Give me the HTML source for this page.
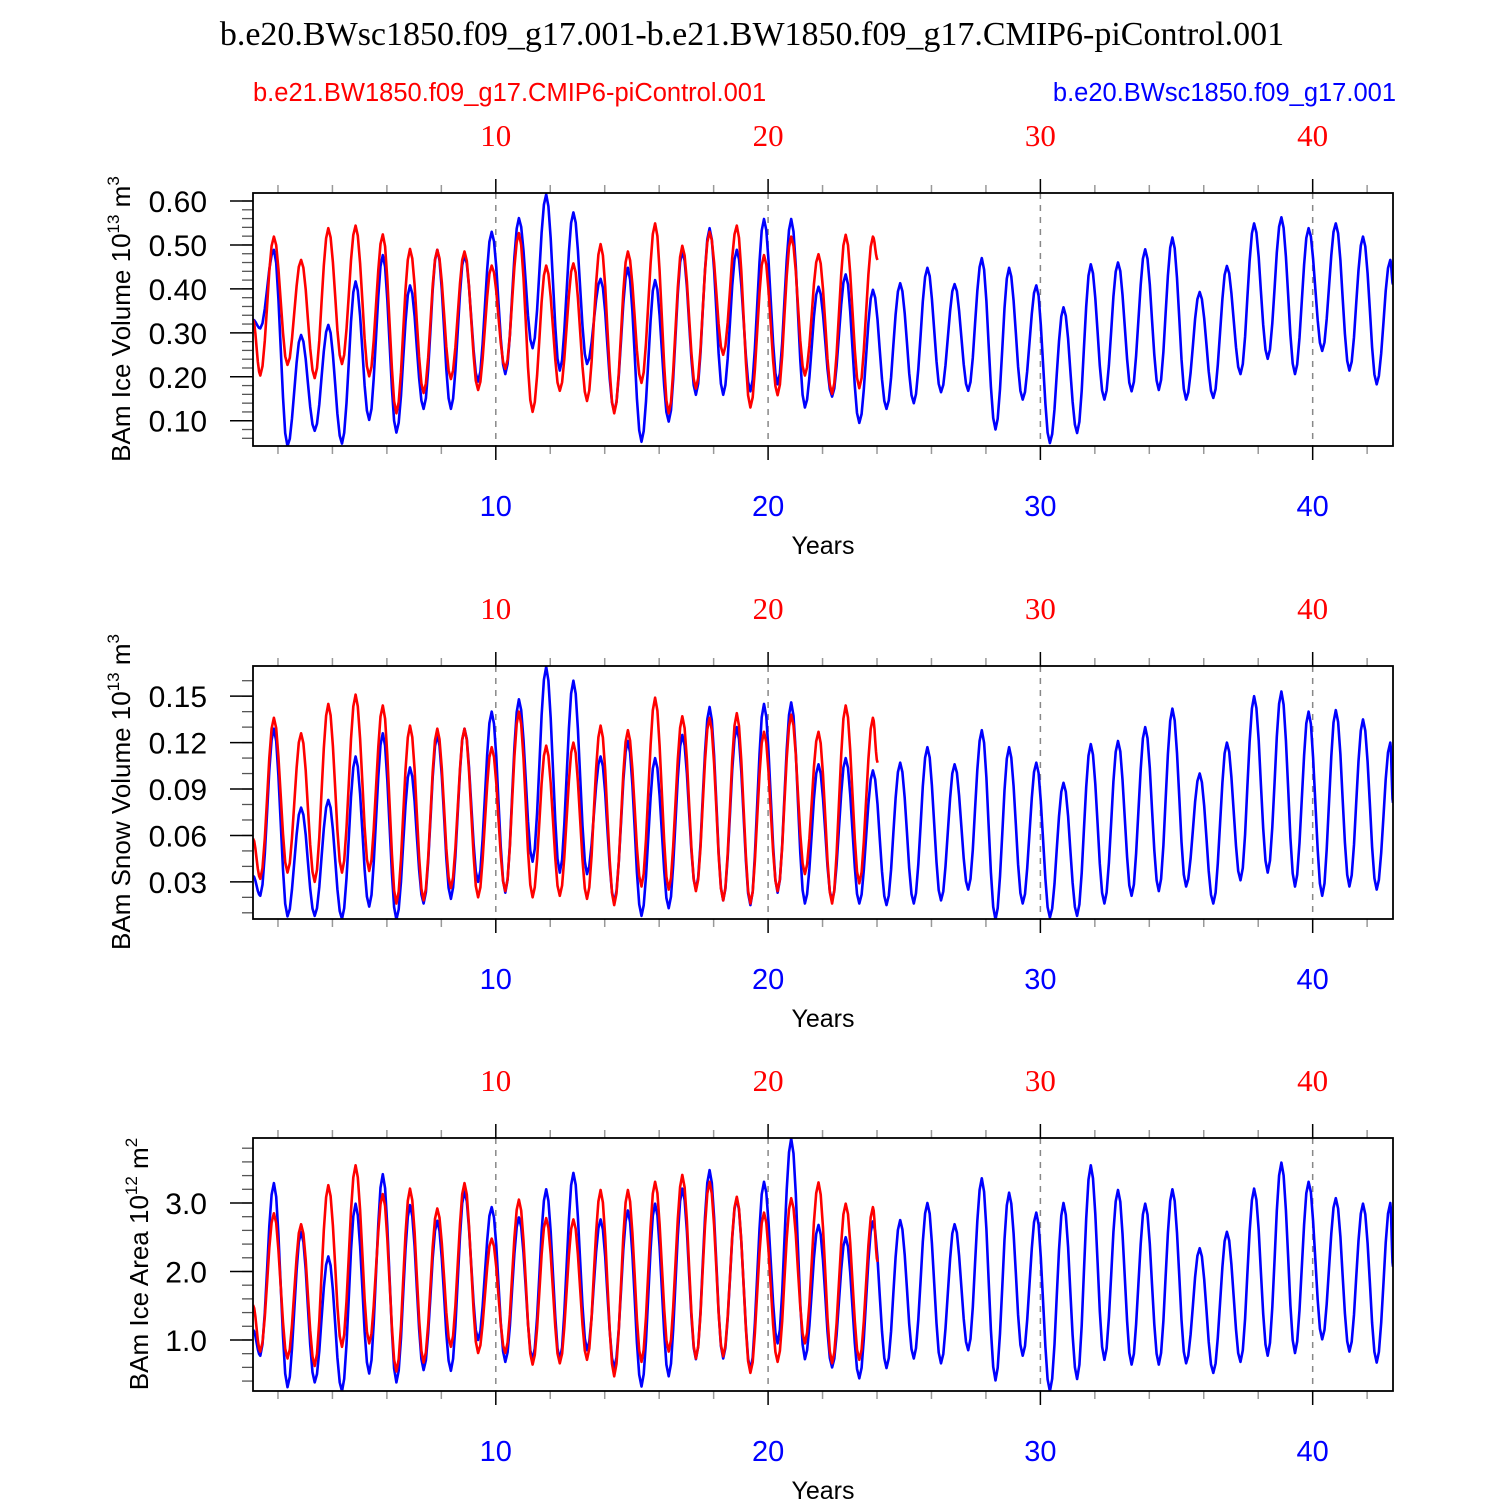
<!DOCTYPE html>
<html><head><meta charset="utf-8"><style>
html,body{margin:0;padding:0;background:#fff;}
svg{display:block;}
</style></head><body>
<svg id="chart" xmlns="http://www.w3.org/2000/svg" width="1500" height="1500" viewBox="0 0 1500 1500">
<rect x="0" y="0" width="1500" height="1500" fill="#fff"/>
<text x="752" y="45" text-anchor="middle" font-family="Liberation Serif, serif" font-size="34">b.e20.BWsc1850.f09_g17.001-b.e21.BW1850.f09_g17.CMIP6-piControl.001</text>
<text x="253" y="101" font-family="Liberation Sans, sans-serif" font-size="25.5" fill="#ff0000">b.e21.BW1850.f09_g17.CMIP6-piControl.001</text>
<text x="1396" y="101" text-anchor="end" font-family="Liberation Sans, sans-serif" font-size="25.5" fill="#0000ff">b.e20.BWsc1850.f09_g17.001</text>
<g id="panels"></g>
</svg>
<script>
// ---- data: per-year extrema (start, trough before each peak, peak, end value) ----
const volBlueStart = 0.33;
const volBlueMin = [0.31,0.042,0.077,0.048,0.102,0.073,0.127,0.127,0.189,0.206,0.265,0.214,0.229,0.121,0.052,0.098,0.159,0.159,0.167,0.183,0.130,0.155,0.095,0.127,0.140,0.165,0.168,0.080,0.148,0.049,0.072,0.148,0.167,0.170,0.148,0.152,0.206,0.241,0.206,0.259,0.214,0.183];
const volBlueMax = [0.489,0.295,0.318,0.417,0.477,0.408,0.489,0.477,0.530,0.561,0.615,0.574,0.423,0.448,0.420,0.486,0.538,0.489,0.559,0.559,0.405,0.433,0.398,0.413,0.448,0.411,0.470,0.448,0.408,0.358,0.456,0.460,0.490,0.517,0.393,0.452,0.549,0.563,0.538,0.549,0.519,0.466];
const volBlueEnd = 0.41;
const volRedStart = 0.33;
const volRedMin = [0.203,0.227,0.197,0.229,0.201,0.117,0.163,0.195,0.170,0.218,0.120,0.168,0.145,0.117,0.186,0.117,0.173,0.250,0.130,0.158,0.203,0.161,0.174];
const volRedMax = [0.519,0.466,0.538,0.544,0.524,0.491,0.489,0.485,0.453,0.527,0.453,0.458,0.502,0.485,0.549,0.498,0.530,0.544,0.477,0.519,0.479,0.523,0.519];
const volRedEnd = 0.466;

const snowBlueStart = 0.034;
const snowBlueMin = [0.021,0.0077,0.008,0.006,0.014,0.0056,0.016,0.019,0.030,0.023,0.043,0.036,0.035,0.017,0.008,0.013,0.025,0.018,0.015,0.023,0.016,0.018,0.016,0.015,0.016,0.018,0.025,0.0056,0.016,0.007,0.008,0.016,0.021,0.024,0.027,0.016,0.031,0.036,0.027,0.021,0.027,0.025];
const snowBlueMax = [0.129,0.078,0.083,0.111,0.126,0.104,0.125,0.129,0.140,0.148,0.169,0.160,0.111,0.121,0.110,0.125,0.143,0.130,0.145,0.146,0.106,0.110,0.102,0.107,0.117,0.106,0.128,0.117,0.107,0.094,0.119,0.121,0.130,0.142,0.100,0.120,0.150,0.153,0.140,0.141,0.135,0.120];
const snowBlueEnd = 0.081;
const snowRedStart = 0.058;
const snowRedMin = [0.032,0.036,0.030,0.036,0.037,0.016,0.018,0.026,0.020,0.024,0.020,0.021,0.019,0.015,0.027,0.025,0.024,0.018,0.016,0.024,0.035,0.016,0.029];
const snowRedMax = [0.136,0.126,0.145,0.151,0.144,0.131,0.129,0.129,0.117,0.140,0.118,0.120,0.131,0.128,0.149,0.137,0.136,0.139,0.127,0.138,0.127,0.144,0.136];
const snowRedEnd = 0.107;

const areaBlueStart = 1.15;
const areaBlueMin = [0.77,0.31,0.38,0.25,0.51,0.38,0.56,0.55,1.00,0.68,0.71,0.71,0.85,0.59,0.32,0.47,0.72,0.73,0.56,0.95,0.72,0.60,0.44,0.59,0.73,0.66,0.85,0.41,0.77,0.25,0.43,0.71,0.64,0.64,0.66,0.52,0.68,0.77,0.81,1.01,0.83,0.67];
const areaBlueMax = [3.29,2.58,2.22,2.99,3.42,2.97,2.74,3.17,2.94,2.79,3.20,3.44,2.76,2.89,2.99,3.21,3.48,3.07,3.31,3.94,2.68,2.50,2.73,2.75,3.00,2.69,3.36,3.15,2.86,3.00,3.55,3.19,2.99,3.20,2.34,2.58,3.21,3.59,3.31,3.07,2.99,3.00];
const areaBlueEnd = 2.07;
const areaRedStart = 1.51;
const areaRedMin = [0.83,0.73,0.62,0.90,0.95,0.54,0.67,0.90,0.81,0.81,0.64,0.66,0.71,0.47,0.68,0.83,0.73,0.76,0.52,0.68,0.95,0.66,0.71];
const areaRedMax = [2.85,2.69,3.26,3.55,3.13,3.21,2.92,3.29,2.48,3.05,2.78,2.76,3.19,3.19,3.31,3.41,3.31,3.09,2.86,3.07,3.30,2.99,2.94];
const areaRedEnd = 2.14;

const yearTicks = [10,20,30,40];
const volTicks = [0.10,0.20,0.30,0.40,0.50,0.60];
const volTickLabels = ["0.10","0.20","0.30","0.40","0.50","0.60"];
const snowTicks = [0.03,0.06,0.09,0.12,0.15];
const snowTickLabels = ["0.03","0.06","0.09","0.12","0.15"];
const areaTicks = [1.0,2.0,3.0];
const areaTickLabels = ["1.0","2.0","3.0"];

// ---- layout ----
const X0 = 253, X1 = 1393, T0 = 1.083, T1 = 42.95;
const NS = "http://www.w3.org/2000/svg";
function xScale(t){ return X0 + (t - T0) / (T1 - T0) * (X1 - X0); }
function mk(tag, attrs, parent){ const e = document.createElementNS(NS, tag); for (const k in attrs) e.setAttribute(k, attrs[k]); parent.appendChild(e); return e; }
const root = document.getElementById('panels');

function buildSeries(start, mins, maxs, end, tEnd){
  const ext = [[T0, start]];
  for (let k = 0; k < maxs.length; k++){
    ext.push([k + 1.35, mins[k]]);
    ext.push([k + 1.85, maxs[k]]);
  }
  ext.push([tEnd, end]);
  const pts = [];
  for (let i = 0; i < ext.length - 1; i++){
    const [ta, va] = ext[i], [tb, vb] = ext[i+1];
    const n = 6;
    for (let j = 0; j < n; j++){
      const f = j / n, s = (1 - Math.cos(Math.PI * f)) / 2;
      pts.push([ta + (tb - ta) * f, va + (vb - va) * s]);
    }
  }
  pts.push(ext[ext.length - 1]);
  return pts;
}

function panel(cfg){
  const top = cfg.top, bot = top + 253;
  const yScale = v => bot - (v - cfg.vmin) / (cfg.vmax - cfg.vmin) * 253;
  const g = mk('g', {}, root);
  
  
  yearTicks.forEach(yr => {
    const l = mk('line', {x1: xScale(yr), x2: xScale(yr), y1: top, y2: bot, stroke: '#888', 'stroke-width': 1.5, 'stroke-dasharray': '6,6'}, g);
    
    
  });
  for (let yr = 2; yr <= 42; yr += 2){
    const x = xScale(yr), major = yr % 10 === 0, len = major ? 14 : 8;
    const a = mk('line', {x1: x, x2: x, y1: top, y2: top - len, stroke: major ? '#000' : '#999', 'stroke-width': 1.5}, g);
    
    
    const b = mk('line', {x1: x, x2: x, y1: bot, y2: bot + len, stroke: major ? '#000' : '#999', 'stroke-width': 1.5}, g);
    
    
  }
  yearTicks.forEach(yr => {
    const tt = mk('text', {x: xScale(yr), y: top - 47, 'text-anchor': 'middle', 'font-family': 'Liberation Serif, serif', 'font-size': 31, fill: '#ff0000'}, g);
    tt.textContent = String(yr);
    
    
    const bt = mk('text', {x: xScale(yr), y: bot + 70, 'text-anchor': 'middle', 'font-family': 'Liberation Sans, sans-serif', 'font-size': 29, fill: '#0000ff'}, g);
    bt.textContent = String(yr);
    
    
  });
  const xt = mk('text', {x: 823, y: bot + 108, 'text-anchor': 'middle', 'font-family': 'Liberation Sans, sans-serif', 'font-size': 25}, g);
  xt.textContent = 'Years';
  
  
  for (let v = cfg.minorStart; v <= cfg.vmax + 1e-9; v += cfg.minor){
    if (v < cfg.vmin) continue;
    const y = yScale(v);
    const m = mk('line', {x1: X0, x2: X0 - 11, y1: y, y2: y, stroke: '#555', 'stroke-width': 1.3}, g);
    
    
  }
  cfg.ticks.forEach((v, i) => {
    const y = yScale(v);
    const t = mk('line', {x1: X0, x2: X0 - 23, y1: y, y2: y, stroke: '#000', 'stroke-width': 1.5}, g);
    
    
    const l = mk('text', {x: 207, y: y + 11, 'text-anchor': 'end', 'font-family': 'Liberation Sans, sans-serif', 'font-size': 30}, g);
    l.textContent = cfg.labels[i];
    
    
  });
  const cy = top + 126;
  const yt = mk('text', {x: 0, y: 0, transform: `translate(${cfg.titleX},${cy}) rotate(-90)`, 'text-anchor': 'middle', 'font-family': 'Liberation Sans, sans-serif', 'font-size': 26}, g);
  
  
  const s1 = mk('tspan', {}, yt); s1.textContent = cfg.title + ' 10';
  const s2 = mk('tspan', {dy: -11, 'font-size': 17}, yt); s2.textContent = cfg.exp;
  const s3 = mk('tspan', {dy: 11}, yt); s3.textContent = ' m';
  const s4 = mk('tspan', {dy: -11, 'font-size': 17}, yt); s4.textContent = cfg.unitExp;
  const cid = 'clip-' + cfg.name;
  const cp = mk('clipPath', {id: cid}, g);
  mk('rect', {x: X0, y: top, width: X1 - X0, height: 253}, cp);
  const series = [
    {d: buildSeries(cfg.redStart, cfg.redMin, cfg.redMax, cfg.redEnd, 24.02), c: '#ff0000', n: 'red-series-line'},
    {d: buildSeries(cfg.blueStart, cfg.blueMin, cfg.blueMax, cfg.blueEnd, T1), c: '#0000ff', n: 'blue-series-line'}
  ];
  [series[1], series[0]].forEach(s => {
    const d = s.d.map((p, i) => (i ? 'L' : 'M') + xScale(p[0]).toFixed(1) + ',' + yScale(p[1]).toFixed(1)).join('');
    const p = mk('path', {d: d, fill: 'none', stroke: s.c, 'stroke-width': 2.6, 'stroke-linejoin': 'round', 'clip-path': `url(#${cid})`}, g);
    
    
  });
  const fr = mk('rect', {x: X0, y: top, width: X1 - X0, height: 253, fill: 'none', stroke: '#000', 'stroke-width': 1.8}, g);
  
  
}

panel({name: 'ice-volume', top: 193, vmin: 0.0425, vmax: 0.6182, ticks: volTicks, labels: volTickLabels, minor: 0.02, minorStart: 0.06,
  title: 'BAm Ice Volume', exp: '13', unitExp: '3', titleX: 130,
  blueStart: volBlueStart, blueMin: volBlueMin, blueMax: volBlueMax, blueEnd: volBlueEnd,
  redStart: volRedStart, redMin: volRedMin, redMax: volRedMax, redEnd: volRedEnd});
panel({name: 'snow-volume', top: 666, vmin: 0.006, vmax: 0.1695, ticks: snowTicks, labels: snowTickLabels, minor: 0.01, minorStart: 0.01,
  title: 'BAm Snow Volume', exp: '13', unitExp: '3', titleX: 130,
  blueStart: snowBlueStart, blueMin: snowBlueMin, blueMax: snowBlueMax, blueEnd: snowBlueEnd,
  redStart: snowRedStart, redMin: snowRedMin, redMax: snowRedMax, redEnd: snowRedEnd});
panel({name: 'ice-area', top: 1138, vmin: 0.255, vmax: 3.949, ticks: areaTicks, labels: areaTickLabels, minor: 0.2, minorStart: 0.4,
  title: 'BAm Ice Area', exp: '12', unitExp: '2', titleX: 148,
  blueStart: areaBlueStart, blueMin: areaBlueMin, blueMax: areaBlueMax, blueEnd: areaBlueEnd,
  redStart: areaRedStart, redMin: areaRedMin, redMax: areaRedMax, redEnd: areaRedEnd});
</script>
</body></html>
